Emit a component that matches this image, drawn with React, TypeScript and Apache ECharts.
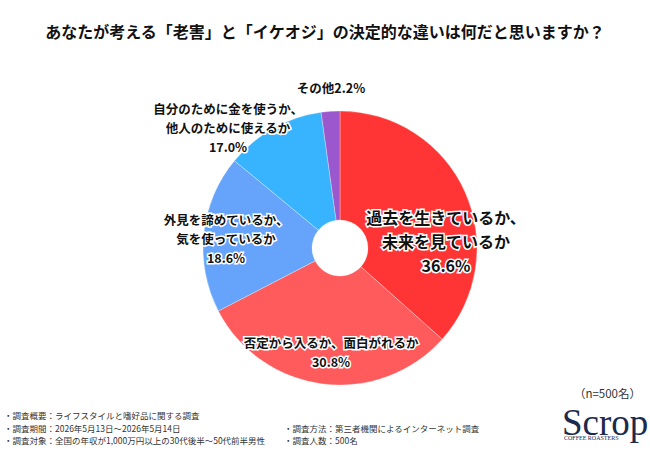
import React, { useEffect, useRef } from "react";
import * as echarts from "echarts";

const titleText = "あなたが考える「老害」と「イケオジ」の決定的な違いは何だと思いますか？";
const categories = [
  "過去を生きているか、\n未来を見ているか",
  "否定から入るか、面白がれるか",
  "外見を諦めているか、\n気を使っているか",
  "自分のために金を使うか、\n他人のために使えるか",
  "その他",
];
// slice sizes as drawn in the picture
const sliceValues = [36.6, 30.8, 18.6, 11.8, 2.2];
// percentages printed in the labels
const labelPercents = ["36.6%", "30.8%", "18.6%", "17.0%", "2.2%"];
const sampleNote = "（n=500名）";
const notesLeft = [
  "・調査概要：ライフスタイルと嗜好品に関する調査",
  "・調査期間：2026年5月13日～2026年5月14日",
  "・調査対象：全国の年収が1,000万円以上の30代後半～50代前半男性",
];
const notesRight = [
  "・調査方法：第三者機関によるインターネット調査",
  "・調査人数：500名",
];

const colors = ["#FF3434", "#FF5A5C", "#66A4FB", "#38B4FF", "#9B57CE"];
const labelPos = [
  [446, 241],
  [331, 352],
  [226, 238],
  [228, 127],
  [331, 87],
];
const FONT = "'Noto Sans CJK JP', 'Noto Sans', sans-serif";
const SERIF = "'Liberation Serif', 'DejaVu Serif', serif";

export default function App() {
  const ref = useRef<HTMLDivElement>(null);
  useEffect(() => {
    document.body.style.margin = "0";
    if (!ref.current) return;
    const chart = echarts.init(ref.current, null, { renderer: "svg" });
    const data = categories.map((name, i) => ({
      name,
      value: sliceValues[i],
      itemStyle: { color: colors[i] },
      label:
        i === 0
          ? { fontSize: 16, lineHeight: 24 }
          : { fontSize: 12.5, lineHeight: 19 },
    }));
    chart.setOption({
      animation: false,
      backgroundColor: "#ffffff",
      title: {
        text: titleText,
        left: "center",
        top: 18,
        textStyle: {
          fontFamily: FONT,
          fontSize: 16,
          fontWeight: "bold",
          color: "#111",
        },
      },
      series: [
        {
          type: "pie",
          center: [340, 248],
          radius: [28, 137],
          startAngle: 90,
          clockwise: true,
          silent: true,
          data,
          itemStyle: { borderColor: "rgba(255,255,255,0.5)", borderWidth: 0.6 },
          labelLine: { show: false },
          label: {
            show: true,
            position: "inside",
            fontFamily: FONT,
            fontWeight: "bold",
            color: "#111",
            textBorderColor: "#fff",
            textBorderWidth: 3,
            align: "center",
            formatter: (p: any) =>
              p.dataIndex === 4
                ? p.name + labelPercents[p.dataIndex]
                : p.name + "\n" + labelPercents[p.dataIndex],
          },
          labelLayout: (p: any) => ({
            x: labelPos[p.dataIndex][0],
            y: labelPos[p.dataIndex][1],
            align: "center",
            verticalAlign: "middle",
          }),
        },
      ],
      graphic: [
        {
          type: "text",
          right: 9,
          top: 386,
          style: { text: sampleNote, fontFamily: FONT, fontSize: 11.5, lineHeight: 13, fill: "#333" },
        },
        ...notesLeft.map((t, i) => ({
          type: "text",
          left: 4,
          top: 411 + i * 12.5,
          style: { text: t, fontFamily: FONT, fontSize: 8.5, fill: "#333" },
        })),
        ...notesRight.map((t, i) => ({
          type: "text",
          left: 284,
          top: 423.5 + i * 12.5,
          style: { text: t, fontFamily: FONT, fontSize: 8.5, fill: "#333" },
        })),
        {
          type: "text",
          left: 562,
          top: 404,
          style: {
            text: "Scrop",
            fontFamily: SERIF,
            fontSize: 37,
            lineHeight: 30,
            fill: "#1B2A4E",
          },
        },
        {
          type: "text",
          left: 564,
          top: 435,
          style: {
            text: "COFFEE ROASTERS",
            fontFamily: SERIF,
            fontSize: 6,
            lineHeight: 6,
            fill: "#1B2A4E",
          },
        },
      ],
    });
    return () => chart.dispose();
  }, []);
  return <div ref={ref} style={{ width: 650, height: 450 }} />;
}
